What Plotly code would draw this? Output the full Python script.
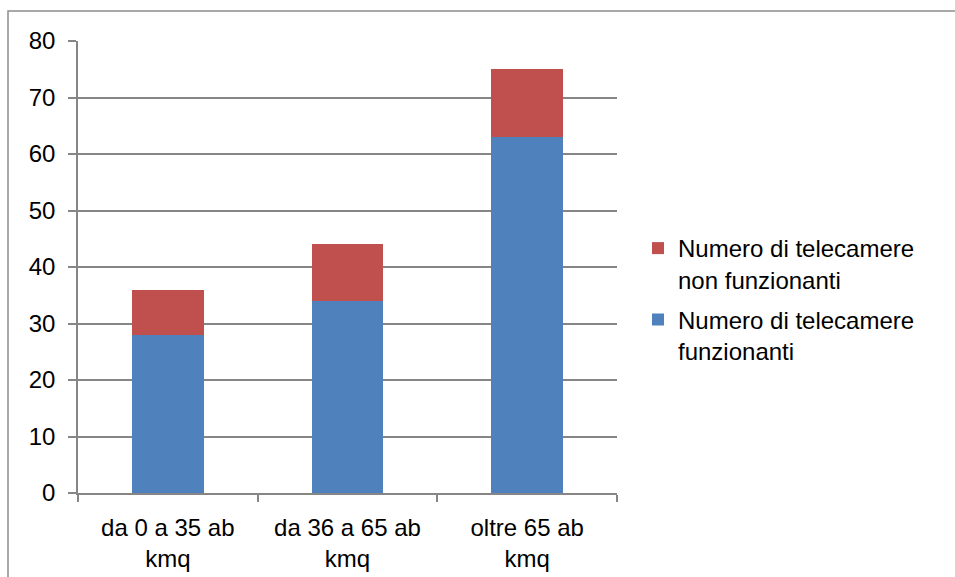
import plotly.graph_objects as go

categories = ["da 0 a 35 ab<br>kmq", "da 36 a 65 ab<br>kmq", "oltre 65 ab<br>kmq"]
funzionanti = [28, 34, 63]
non_funzionanti = [8, 10, 12]
y_ticks = [0, 10, 20, 30, 40, 50, 60, 70, 80]

BLUE = "#4F81BD"
RED = "#C0504D"
GRID = "#868686"
FONT = "Liberation Sans, Arial, sans-serif"

fig = go.Figure()
fig.add_trace(go.Bar(
    x=categories, y=funzionanti,
    name="Numero di telecamere<br>funzionanti",
    legendgroup="f", legendrank=2,
    marker=dict(color=BLUE, line=dict(width=0)),
))
fig.add_trace(go.Bar(
    x=categories, y=non_funzionanti,
    name="Numero di telecamere<br>non funzionanti",
    legendgroup="nf", legendrank=1,
    marker=dict(color=RED, line=dict(width=0)),
))

# outer chart-area frame
fig.add_shape(type="rect", xref="paper", yref="paper",
              x0=-70 / 539, x1=2.0, y0=-1.0, y1=(493 - 11) / 452,
              line=dict(color="#8c8c8c", width=1.5), fillcolor="rgba(0,0,0,0)",
              layer="below")

fig.update_layout(
    width=955, height=577,
    margin=dict(l=78, r=338, t=41, b=84),
    paper_bgcolor="white", plot_bgcolor="white",
    barmode="stack", bargap=0.6,
    font=dict(family=FONT, size=24, color="black"),
    showlegend=True,
    legend=dict(
        x=(638 - 78) / 539, y=(493 - 226) / 452,
        xanchor="left", yanchor="top",
        traceorder="grouped",
        valign="top",
        font=dict(size=24, color="black"),
        itemwidth=30, tracegroupgap=6,
        bgcolor="rgba(0,0,0,0)",
    ),
    xaxis=dict(
        type="category", automargin=False,
        showline=True, linecolor=GRID, linewidth=1.5,
        ticks="outside", tickson="boundaries", ticklen=7,
        tickcolor=GRID, tickwidth=1.5,
        showgrid=False,
        ticklabelstandoff=12,
        tickfont=dict(size=24, color="black"),
    ),
    yaxis=dict(
        range=[0, 80], tickvals=y_ticks, automargin=False,
        showline=True, linecolor=GRID, linewidth=1.5,
        ticks="outside", ticklen=8, tickcolor=GRID, tickwidth=1.5,
        showgrid=True, gridcolor=GRID, gridwidth=1.5,
        zeroline=False,
        ticklabelstandoff=8,
        tickfont=dict(size=24, color="black"),
    ),
)

fig.write_html("out.html")
